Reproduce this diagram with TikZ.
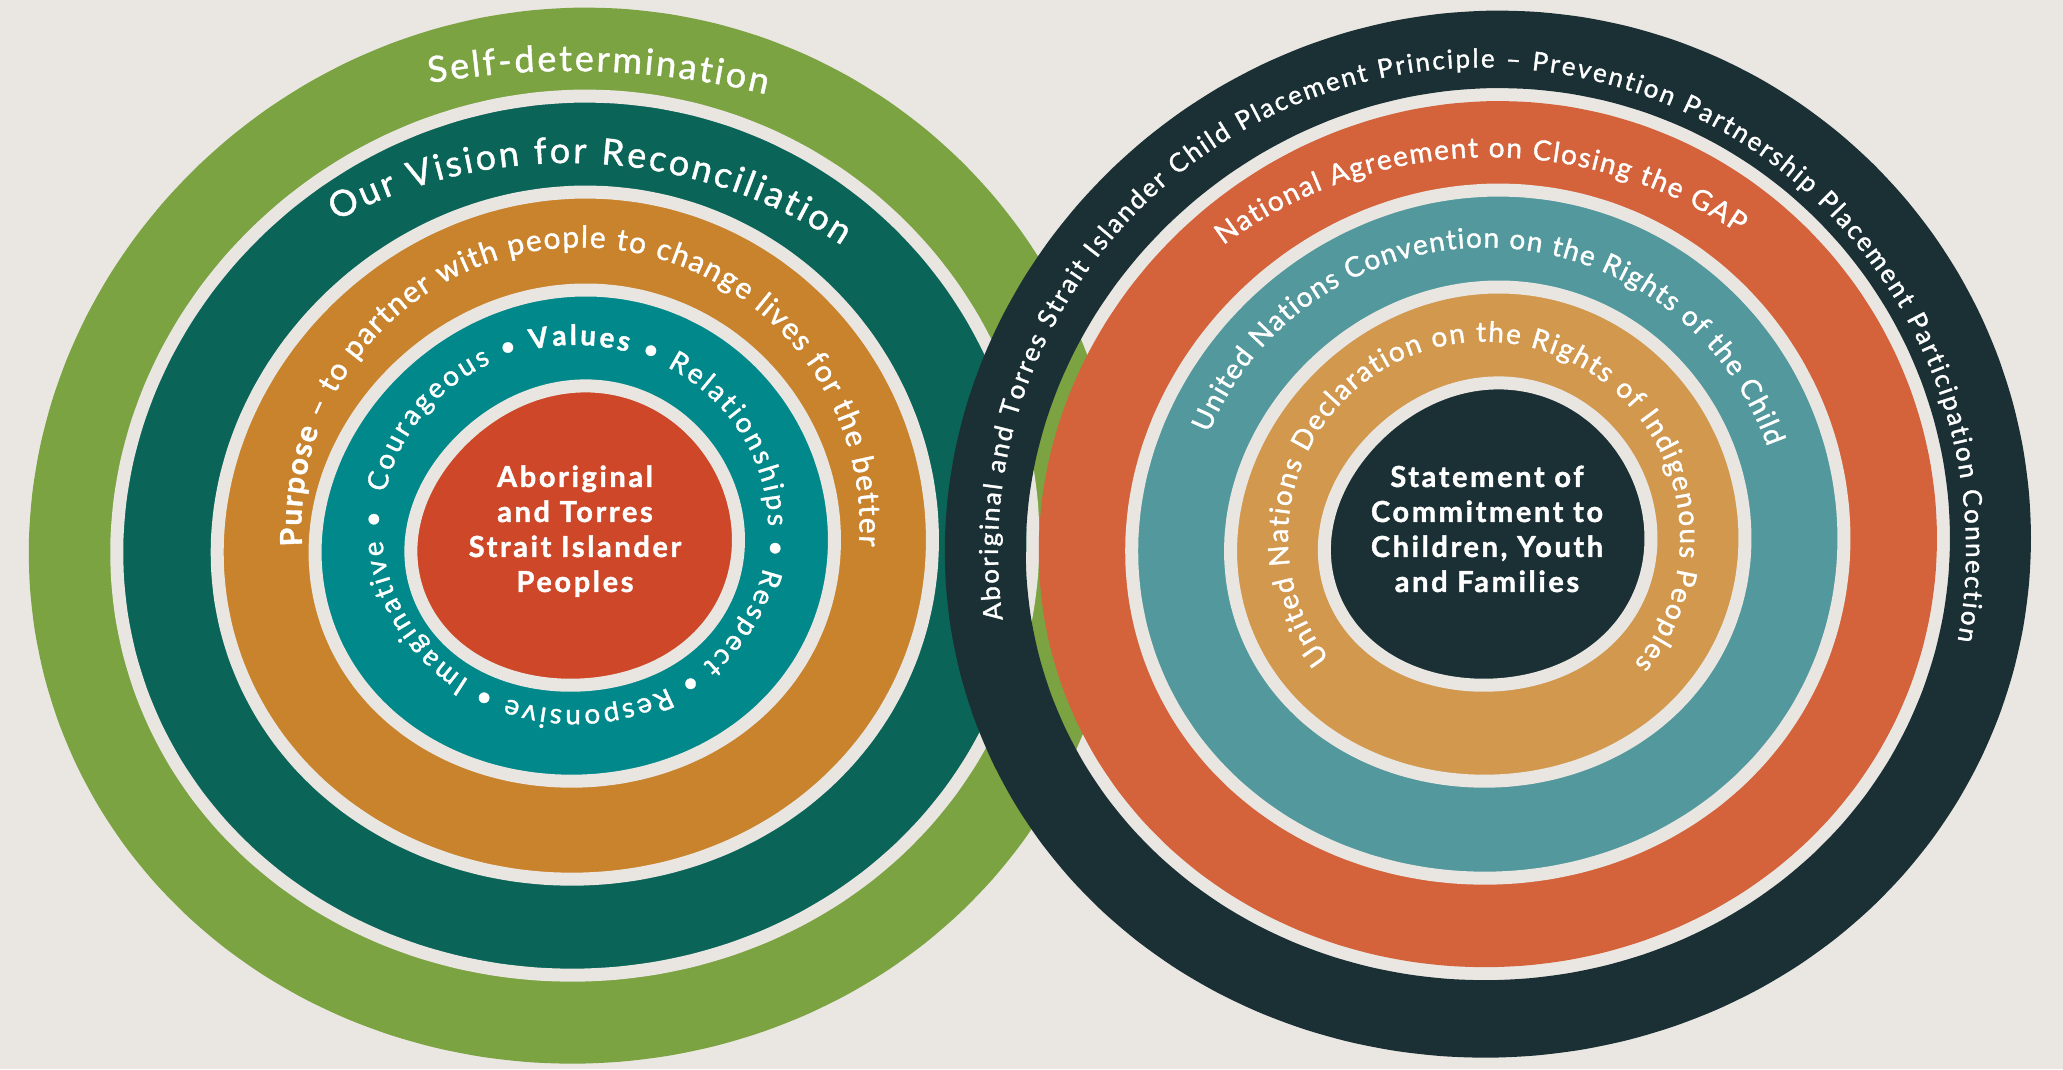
\documentclass[tikz,border=0pt]{standalone}
\usepackage{fontspec}
\setmainfont{Lato}
\newfontfamily\ringfamily{Lato}[FakeBold=1.2]
\newfontfamily\centrefamily{Lato}[FakeBold=1.4, LetterSpace=9]
\usetikzlibrary{decorations.text}

\definecolor{bgcream}{HTML}{EAE7E2}
\definecolor{gapcream}{HTML}{E9E6E1}
\definecolor{selfgreen}{HTML}{7BA342}
\definecolor{visionteal}{HTML}{0B6458}
\definecolor{purposeorange}{HTML}{C8832C}
\definecolor{valuesteal}{HTML}{00888A}
\definecolor{peoplered}{HTML}{CD4728}
\definecolor{principledark}{HTML}{1B3035}
\definecolor{closinggap}{HTML}{D4633B}
\definecolor{conventionteal}{HTML}{52989C}
\definecolor{declarationtan}{HTML}{D1984E}

\newcommand{\bigring}{\ringfamily\fontsize{36}{36}\selectfont\color{white}}
\newcommand{\midring}{\ringfamily\fontsize{30}{30}\selectfont\color{white}}
\newcommand{\smallring}{\ringfamily\fontsize{28}{28}\selectfont\color{white}}
\newcommand{\outerring}{\ringfamily\fontsize{26}{26}\selectfont\color{white}}
\newcommand{\centrefont}{\centrefamily\bfseries\fontsize{29}{29}\selectfont}

\begin{document}
\begin{tikzpicture}[x=1pt, y=1pt,
    declare function={wob(\x)=4*cos(2*(\x-30))+3*sin(3*\x+200);},
    blob/.style n args={4}{insert path={plot[smooth cycle, domain=0:355, samples=72]
      ({#1+(#3+wob(\x))*cos(\x)}, {#2+(#4+wob(\x))*sin(\x)})}},
    halo/.style={draw=gapcream, line width=13pt},
    ringlabel/.style={decorate, decoration={text along path, text align=fit to path, text={#1}}},
    centretext/.style={anchor=base, text=white, font=\centrefont}]

    % Canvas
    \useasboundingbox (0,0) rectangle (2063,1069);
    \fill[bgcream] (0,0) rectangle (2063,1069);

    % Left rings
    \fill[selfgreen] [blob={576}{530.5}{544}{530}];
    \fill[visionteal, halo] [blob={576}{530.5}{456}{441.5}];
    \fill[purposeorange, halo] [blob={576}{530.5}{355.5}{345.5}];
    \fill[valuesteal, halo] [blob={576}{530.5}{257.5}{247.5}];
    \fill[peoplered, halo] [blob={576}{530.5}{161.5}{151.5}];

    % Left ring labels
    \path[ringlabel={|\bigring|Self-determination}]
      ([shift={(99.8:830)}]571,168) arc[start angle=99.8, end angle=76.4, radius=830];
    \path[ringlabel={|\bigring|Our Vision for Reconciliation}]
      ([shift={(118:495)}]568.5,411) arc[start angle=118, end angle=56.5, radius=495];
    \path[ringlabel={|\midring\bfseries|Purpose|\midring| – to partner with people to change lives for the better}]
      ([shift={(184:279)}]580.5,542.6) arc[start angle=184, end angle=-4, radius=279];
    \path[ringlabel={|\smallring|Courageous • |\smallring\bfseries|Values|\smallring| • Relationships • Respect • Responsive • Imaginative •}]
      ([shift={(169:193 and 182.5)}]575,541.5) arc[start angle=169, end angle=-185, x radius=193, y radius=182.5];

    % Left centre
    \node[centretext] (people1) at (575,582) {Aboriginal};
    \node[centretext] (people2) at (575,547) {and Torres};
    \node[centretext] (people3) at (575,512) {Strait Islander};
    \node[centretext] (people4) at (575,477) {Peoples};

    % Right rings
    \fill[principledark, even odd rule] [blob={1489}{532}{541}{525.5}] [blob={1489}{532}{460}{448}];
    \fill[closinggap] [blob={1489}{532}{447}{435}];
    \fill[conventionteal, halo] [blob={1489}{532}{354}{346}];
    \fill[declarationtan, halo] [blob={1489}{532}{255}{249}];
    \fill[principledark, halo] [blob={1489}{532}{161}{153}];

    % Right ring labels
    \path[ringlabel={|\outerring|Aboriginal and Torres Strait Islander Child Placement Principle – Prevention Partnership Placement Participation Connection}]
      ([shift={(188.1:484)}]1482,517.5) arc[start angle=188.1, end angle=-10.5, radius=484];
    \path[ringlabel={|\smallring|National Agreement on Closing the GAP}]
      ([shift={(126.6:446)}]1489.3,465.7) arc[start angle=126.6, end angle=56, radius=446];
    \path[ringlabel={|\smallring|United Nations Convention on the Rights of the Child}]
      ([shift={(157.7:299)}]1485.5,522.4) arc[start angle=157.7, end angle=19.5, radius=299];
    \path[ringlabel={|\smallring|United Nations Declaration on the Rights of Indigenous Peoples}]
      ([shift={(218:196)}]1484,531.3) arc[start angle=218, end angle=-40, radius=196];

    % Right centre
    \node[centretext] (statement1) at (1487,582) {Statement of};
    \node[centretext] (statement2) at (1487,547) {Commitment to};
    \node[centretext] (statement3) at (1487,512) {Children, Youth};
    \node[centretext] (statement4) at (1487,477) {and Families};
\end{tikzpicture}
\end{document}
